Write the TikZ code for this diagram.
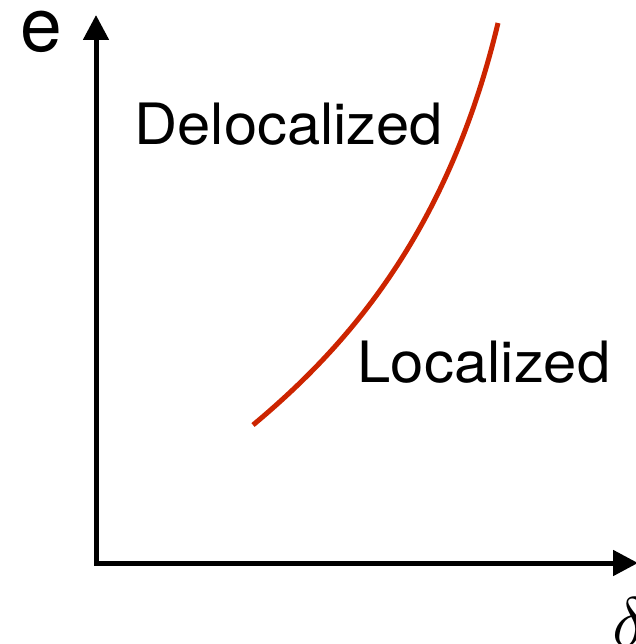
\documentclass[tikz,border=0pt]{standalone}
\usepackage{fontspec}
\setmainfont{TeX Gyre Heros}
\usetikzlibrary{arrows.meta}
\definecolor{curvered}{RGB}{204,36,0}
\tikzset{
  arrowtip/.style={Triangle[length=25pt,width=25pt]},
  lbl/.style={inner sep=0pt, anchor=base west, font=\fontsize{57}{60}\selectfont},
}
\begin{document}
\begin{tikzpicture}[x=1pt,y=-1pt]
\useasboundingbox (0,0) rectangle (635,644);
\coordinate (origin) at (96,563);
\coordinate (ytip) at (96,15);
\coordinate (xtip) at (638,563);
\coordinate (cstart) at (253,425);
\coordinate (cend) at (498,23);
\draw[line width=5pt, {Triangle[length=25pt,width=25pt]}-{Triangle[length=25pt,width=25pt]}, line join=miter] (ytip) -- (origin) -- (xtip);
\draw[curvered, line width=5pt] (cstart) .. controls (352.8,341.8) and (449.1,227.1) .. (cend);
\node[lbl] (deloc) at (134.5,145) {\scalebox{1.047}[1]{Delocalized}};
\node[lbl] (loc) at (357.5,382) {\scalebox{1.05}[1]{Localized}};
\node[inner sep=0pt, anchor=base west, font=\fontsize{75}{78}\selectfont] (elbl) at (20,52) {e};
\node[inner sep=0pt, anchor=base west] (dlbl) at (612,646) {\scalebox{7}{$\delta$}};
\end{tikzpicture}
\end{document}
